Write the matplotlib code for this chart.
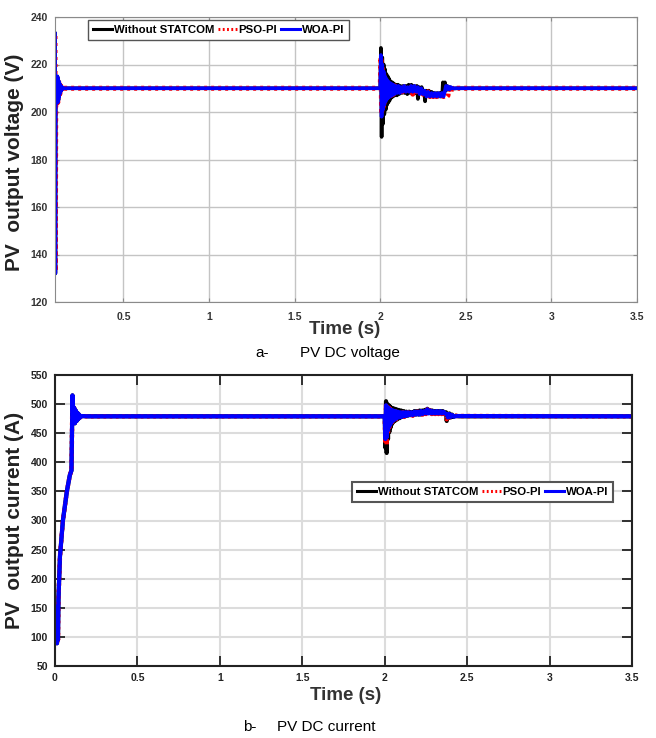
import matplotlib
matplotlib.use("Agg")
import matplotlib.pyplot as plt

plt.rcParams["font.family"] = ["Liberation Sans", "DejaVu Sans"]

labels = ["Without STATCOM", "PSO-PI", "WOA-PI"]

# ---- (a) PV DC voltage ----
t_v_black = [0.100, 0.101, 0.102, 0.103, 0.104, 0.106, 0.108, 0.110, 0.112, 0.114, 0.116, 0.118,
             0.120, 0.122, 0.124, 0.126, 0.128, 0.130, 0.132, 0.134, 0.137, 0.140, 0.145, 0.150,
             0.5, 1.0, 1.5, 2.000,
             2.004, 2.008, 2.012, 2.016, 2.020, 2.024, 2.028, 2.032, 2.036, 2.040, 2.044, 2.048,
             2.052, 2.056, 2.060, 2.065, 2.070, 2.075, 2.080, 2.086, 2.092, 2.098, 2.104, 2.110,
             2.118, 2.126, 2.134, 2.142, 2.150, 2.158, 2.166, 2.174, 2.182, 2.190, 2.198, 2.206,
             2.214, 2.220, 2.226, 2.234, 2.242, 2.250, 2.256, 2.262, 2.268, 2.276, 2.284, 2.292,
             2.300, 2.308, 2.316, 2.324, 2.332, 2.340, 2.348, 2.356, 2.362, 2.366, 2.372, 2.378,
             2.384, 2.390, 2.398, 2.406, 2.420, 2.450, 3.0, 3.5]
v_black = [233, 180, 132, 160, 200, 212, 206, 214, 205, 215, 204, 214,
           205, 213, 206.5, 212, 207.5, 211.5, 208.5, 211, 209, 210.5, 209.8, 210,
           210, 210, 210, 210,
           227, 189.5, 223, 195, 220, 199, 218, 201, 216, 203, 215, 204,
           214, 205, 213, 206, 212.5, 206.5, 212, 207, 211.5, 207, 211.5, 207.5,
           211, 208, 211, 208, 211, 207.5, 211.5, 208, 211.5, 208, 211, 208,
           211, 205.5, 210.5, 208, 210.5, 207.5, 209, 204.5, 209, 207, 209, 206.5,
           208.5, 206.5, 208, 206.5, 208, 206.5, 208, 206.5, 207, 212.5, 211, 212.5,
           209, 211, 209.5, 210.5, 209.8, 210, 210, 210]

t_v_pso = [0.100, 0.101, 0.102, 0.103, 0.104, 0.106, 0.108, 0.110, 0.112, 0.114, 0.116, 0.118,
           0.120, 0.122, 0.124, 0.126, 0.128, 0.130, 0.132, 0.134, 0.137, 0.140, 0.145, 0.150,
           0.5, 1.0, 1.5, 2.000,
           2.004, 2.008, 2.012, 2.016, 2.020, 2.024, 2.028, 2.032, 2.036, 2.040, 2.046, 2.052,
           2.058, 2.064, 2.070, 2.078, 2.086, 2.094, 2.102, 2.110, 2.120, 2.130, 2.140, 2.150,
           2.160, 2.170, 2.180, 2.190, 2.200, 2.210, 2.220, 2.230, 2.240, 2.250, 2.260, 2.270,
           2.280, 2.290, 2.300, 2.310, 2.320, 2.330, 2.340, 2.350, 2.360, 2.370, 2.380, 2.390,
           2.396, 2.400, 2.406, 2.414, 2.424, 2.450, 3.0, 3.5]
v_pso = [232, 180, 133, 160, 200, 212, 206, 214, 205, 215, 204, 214,
         205, 213, 206.5, 212, 207.5, 211.5, 208.5, 211, 209, 210.5, 209.8, 210,
         210, 210, 210, 210,
         223, 199, 219, 202, 216, 204, 214.5, 205, 213.5, 206, 212.5, 206.5,
         212, 207, 211.5, 207.5, 211, 207.5, 211, 208, 210.5, 208.5, 210.5, 208,
         210.5, 208.5, 210.5, 207.5, 210.5, 208.5, 210.5, 207.5, 209.5, 207.5, 209, 206.5,
         208.5, 206.5, 208, 206.5, 208, 206.5, 208, 206.5, 207.5, 206.5, 207, 206.5,
         207, 211.5, 209.5, 210.8, 209.6, 210, 210, 210]

t_v_woa = [0.100, 0.101, 0.102, 0.103, 0.104, 0.106, 0.108, 0.110, 0.112, 0.114, 0.116, 0.118,
           0.120, 0.122, 0.124, 0.126, 0.128, 0.130, 0.132, 0.134, 0.137, 0.140, 0.145, 0.150,
           0.5, 1.0, 1.5, 2.000,
           2.004, 2.008, 2.012, 2.016, 2.020, 2.024, 2.028, 2.032, 2.036, 2.040, 2.044, 2.048,
           2.052, 2.058, 2.064, 2.070, 2.076, 2.082, 2.090, 2.098, 2.106, 2.114, 2.122, 2.130,
           2.140, 2.150, 2.160, 2.170, 2.180, 2.190, 2.200, 2.210, 2.220, 2.230, 2.240, 2.250,
           2.260, 2.270, 2.280, 2.290, 2.300, 2.310, 2.320, 2.330, 2.340, 2.350, 2.360, 2.370,
           2.378, 2.384, 2.390, 2.396, 2.404, 2.412, 2.420, 3.5]
v_woa = [233, 180, 132, 160, 200, 212, 206, 214, 205, 215, 204, 214,
         205, 213, 206.5, 212, 207.5, 211.5, 208.5, 211, 209, 210.5, 209.8, 210,
         210, 210, 210, 210,
         224, 198, 220, 201, 217, 203, 215, 204.5, 214, 205.5, 213, 206,
         212.5, 206.5, 212, 207, 211.5, 207.5, 211, 208, 211, 208, 210.5, 208.5,
         211, 208.5, 210.5, 208.5, 211, 208.5, 211, 208.5, 210.5, 207.5, 210, 207.5,
         209, 206.5, 208.5, 206.5, 208, 206.5, 208, 206.5, 208, 206.5, 208, 206.5,
         209, 211, 209.5, 210.8, 209.5, 210.5, 210, 210]

# ---- (b) PV DC current ----
t_i_black = [0.000, 0.003, 0.006, 0.009, 0.012, 0.015, 0.018, 0.021, 0.030, 0.048, 0.060, 0.072,
             0.090, 0.100, 0.106, 0.111, 0.116, 0.121, 0.126, 0.131, 0.136, 0.141, 0.146, 0.152,
             0.160, 0.2, 1.0, 2.000,
             2.004, 2.008, 2.012, 2.016, 2.020, 2.024, 2.028, 2.032, 2.036, 2.040, 2.045, 2.050,
             2.055, 2.060, 2.066, 2.072, 2.078, 2.085, 2.092, 2.100, 2.108, 2.116, 2.124, 2.132,
             2.140, 2.148, 2.156, 2.164, 2.172, 2.180, 2.188, 2.196, 2.204, 2.212, 2.220, 2.228,
             2.236, 2.244, 2.252, 2.258, 2.264, 2.272, 2.280, 2.288, 2.296, 2.304, 2.312, 2.320,
             2.328, 2.336, 2.344, 2.352, 2.360, 2.372, 2.376, 2.380, 2.386, 2.392, 2.400, 2.408,
             2.416, 2.430, 2.450, 3.5]
i_black = [140, 152, 92, 150, 89, 148, 95, 165, 238, 300, 325, 350,
           378, 386, 515, 468, 494, 467, 489, 471, 485, 474, 482, 477,
           479.5, 479, 479, 479,
           425, 505, 416, 500, 440, 498, 452, 496, 460, 494, 466, 493,
           470, 492, 472, 491, 474, 490, 476, 489, 478, 488, 479, 487,
           480, 487, 481, 486, 481, 488, 482, 488, 482, 489, 482, 489,
           483, 490, 484, 492, 485, 490, 484, 489, 484, 488, 484, 488,
           484, 488, 484, 488, 485, 486, 471, 482, 476, 484, 477, 482,
           478, 480, 479, 479]

t_i_pso = [0.000, 0.003, 0.006, 0.009, 0.012, 0.015, 0.018, 0.021, 0.030, 0.048, 0.060, 0.072,
           0.090, 0.100, 0.106, 0.111, 0.116, 0.121, 0.126, 0.131, 0.136, 0.141, 0.146, 0.152,
           0.160, 0.2, 1.0, 2.000,
           2.004, 2.008, 2.012, 2.016, 2.020, 2.024, 2.028, 2.032, 2.036, 2.040, 2.046, 2.052,
           2.058, 2.064, 2.070, 2.078, 2.086, 2.094, 2.102, 2.110, 2.118, 2.126, 2.134, 2.142,
           2.150, 2.160, 2.170, 2.180, 2.190, 2.200, 2.210, 2.220, 2.230, 2.240, 2.250, 2.258,
           2.266, 2.276, 2.286, 2.296, 2.306, 2.316, 2.326, 2.336, 2.346, 2.356, 2.366, 2.376,
           2.384, 2.392, 2.400, 2.410, 2.420, 2.440, 3.5]
i_pso = [140, 152, 92, 150, 89, 148, 95, 165, 238, 300, 325, 350,
         378, 386, 514, 468, 493, 467, 489, 471, 485, 474, 482, 477,
         479.5, 479, 479, 479,
         432, 500, 430, 496, 450, 494, 460, 492, 465, 490, 469, 489,
         472, 488, 474, 487, 476, 486, 477, 486, 478, 486, 479, 486,
         480, 486, 480, 487, 481, 487, 481, 488, 482, 488, 483, 491,
         483, 489, 483, 488, 483, 488, 483, 488, 483, 487, 483, 474,
         482, 477, 483, 478, 480.5, 479.5, 479]

t_i_woa = [0.000, 0.003, 0.006, 0.009, 0.012, 0.015, 0.018, 0.021, 0.030, 0.048, 0.060, 0.072,
           0.090, 0.100, 0.106, 0.111, 0.116, 0.121, 0.126, 0.131, 0.136, 0.141, 0.146, 0.152,
           0.160, 0.2, 1.0, 2.000,
           2.004, 2.008, 2.012, 2.016, 2.020, 2.024, 2.028, 2.032, 2.036, 2.040, 2.046, 2.052,
           2.058, 2.064, 2.070, 2.078, 2.086, 2.094, 2.102, 2.110, 2.118, 2.126, 2.134, 2.142,
           2.150, 2.160, 2.170, 2.180, 2.190, 2.200, 2.210, 2.220, 2.230, 2.240, 2.250, 2.258,
           2.266, 2.276, 2.286, 2.296, 2.306, 2.316, 2.326, 2.336, 2.346, 2.356, 2.366, 2.376,
           2.384, 2.392, 2.400, 2.410, 2.420, 2.440, 3.5]
i_woa = [140, 152, 92, 150, 89, 148, 95, 165, 238, 300, 325, 350,
         378, 386, 515, 468, 494, 467, 489, 471, 485, 474, 482, 477,
         479.5, 479, 479, 479,
         440, 498, 443, 495, 455, 493, 462, 491, 466, 490, 470, 489,
         473, 488, 475, 487, 477, 486, 478, 486, 479, 486, 480, 486,
         481, 486, 481, 487, 482, 487, 482, 488, 483, 488, 484, 491,
         484, 489, 484, 488, 484, 488, 484, 488, 484, 487, 484, 483,
         477, 483, 478, 481, 478.5, 479.5, 479]

W, H = 656, 738
fig = plt.figure(figsize=(W / 100, H / 100), dpi=100)


def style_legend(ax, x, y, lw):
    leg = ax.legend(labels, loc="upper left", bbox_to_anchor=(x / W, 1 - y / H),
                    bbox_transform=fig.transFigure, ncol=3, borderaxespad=0,
                    fancybox=False, framealpha=1, handlelength=1.7, handletextpad=0.1,
                    columnspacing=0.35, borderpad=0.45,
                    prop={"weight": "bold", "size": 8.2})
    leg.get_frame().set_edgecolor("#555555")
    leg.get_frame().set_linewidth(lw)
    for h in leg.get_lines():
        h.set_linewidth(2.2)
    return leg


# top axes
ax1 = fig.add_axes([55 / W, 1 - 302 / H, 582 / W, 285 / H])
ax1.plot(t_v_black, v_black, color="black", lw=2.6)
ax1.plot(t_v_pso, v_pso, color="red", lw=3.6, ls=(0, (0.6, 0.8)))
ax1.plot(t_v_woa, v_woa, color="blue", lw=2.6)
ax1.set_xlim(0.1, 3.5)
ax1.set_ylim(120, 240)
ax1.set_xticks([0.5, 1, 1.5, 2, 2.5, 3, 3.5])
ax1.set_xticklabels(["0.5", "1", "1.5", "2", "2.5", "3", "3.5"])
ax1.set_yticks(range(120, 241, 20))
ax1.grid(True, color="#c4c4c4", lw=1)
for s in ax1.spines.values():
    s.set_color("#8a8a8a")
ax1.tick_params(direction="in", length=3, color="#8a8a8a", right=True, top=True,
                labelsize=7.5, labelcolor="#333333")
ax1.tick_params(axis="x", pad=7)
ax1.tick_params(axis="y", pad=5)
for lab in ax1.get_xticklabels() + ax1.get_yticklabels():
    lab.set_fontweight("bold")
ax1.set_ylabel("PV  output voltage (V)", fontsize=15, fontweight="bold", color="#222222")
ax1.yaxis.set_label_coords(-0.054, 0.49)
style_legend(ax1, 88, 20, 1.0)
fig.text(345 / W, 1 - 330 / H, "Time (s)", ha="center", va="center", fontsize=13.5,
         fontweight="bold", color="#333333")
fig.text(255 / W, 1 - 353 / H, "a-", ha="left", va="center", fontsize=11)
fig.text(300 / W, 1 - 353 / H, "PV DC voltage", ha="left", va="center", fontsize=11)

# bottom axes
ax2 = fig.add_axes([55 / W, 1 - 666 / H, 577 / W, 291 / H])
ax2.plot(t_i_black, i_black, color="black", lw=3)
ax2.plot(t_i_pso, i_pso, color="red", lw=3.2, ls=(0, (0.6, 0.8)))
ax2.plot(t_i_woa, i_woa, color="blue", lw=3)
ax2.set_xlim(0, 3.5)
ax2.set_ylim(50, 550)
ax2.set_xticks([0, 0.5, 1, 1.5, 2, 2.5, 3, 3.5])
ax2.set_xticklabels(["0", "0.5", "1", "1.5", "2", "2.5", "3", "3.5"])
ax2.set_yticks(range(50, 551, 50))
ax2.grid(True, color="#dcdcdc", lw=1.5)
for s in ax2.spines.values():
    s.set_color("#222222")
    s.set_linewidth(1.5)
ax2.tick_params(direction="in", length=7, width=1.3, color="#222222", right=True, top=True,
                labelsize=7.5, labelcolor="#222222")
ax2.tick_params(axis="x", pad=5)
ax2.tick_params(axis="y", pad=5)
for lab in ax2.get_xticklabels() + ax2.get_yticklabels():
    lab.set_fontweight("bold")
ax2.set_ylabel("PV  output current (A)", fontsize=15, fontweight="bold", color="#222222")
ax2.yaxis.set_label_coords(-0.054, 0.5)
style_legend(ax2, 352, 482, 1.5)
fig.text(346 / W, 1 - 695 / H, "Time (s)", ha="center", va="center", fontsize=13.5,
         fontweight="bold", color="#333333")
fig.text(243 / W, 1 - 727 / H, "b-", ha="left", va="center", fontsize=11)
fig.text(277 / W, 1 - 727 / H, "PV DC current", ha="left", va="center", fontsize=11)

fig.savefig("out.png", dpi=100)
